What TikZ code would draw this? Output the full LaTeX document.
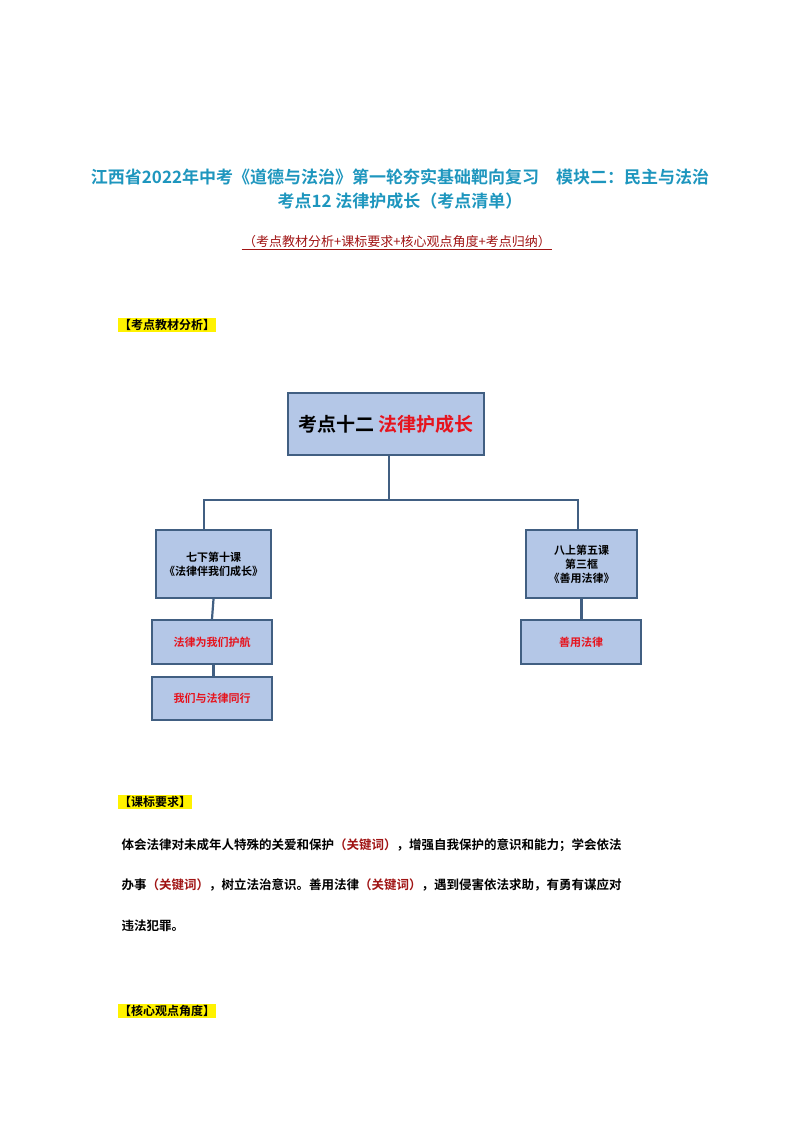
\documentclass[tikz,border=0pt]{standalone}
\usepackage{fontspec}
\newfontfamily\cjk{Noto Sans CJK SC}
\newfontfamily\cjkb{Noto Sans CJK SC Bold}
\definecolor{ttl}{RGB}{30,150,190}
\definecolor{dred}{RGB}{160,20,20}
\definecolor{boxf}{RGB}{180,199,231}
\definecolor{boxd}{RGB}{65,95,130}
\definecolor{rd}{RGB}{230,20,30}
\begin{document}
\begin{tikzpicture}[x=1pt,y=-1pt,
 bx/.style={draw=boxd,line width=2.2pt,fill=boxf,inner sep=0pt,align=center,font=\cjkb\fontsize{11}{14}\selectfont},
 ln/.style={draw=boxd,line width=2.2pt},
 hl/.style={fill=yellow,inner sep=1pt,anchor=west,font=\cjkb\fontsize{12}{14}\selectfont},
 body/.style={anchor=west,font=\cjkb\fontsize{12.5}{14}\selectfont}]
\useasboundingbox (0,0) rectangle (794,1123);
\node[font=\cjkb\fontsize{17}{20}\selectfont,text=ttl] (t1) at (400,177) {江西省2022年中考《道德与法治》第一轮夯实基础靶向复习\quad 模块二：民主与法治};
\node[font=\cjkb\fontsize{17}{20}\selectfont,text=ttl] (t2) at (400,201) {考点12\ 法律护成长（考点清单）};
\node[font=\cjk\fontsize{13}{15}\selectfont,text=dred] (t3) at (397,242) {（考点教材分析+课标要求+核心观点角度+考点归纳）};
\draw[dred,line width=0.7pt] (t3.south west)++(2,-2) -- ([xshift=-2pt,yshift=2pt]t3.south east);
\node[hl] (h1) at (118,325) {【考点教材分析】};
\node[bx,minimum width=196,minimum height=62,font=\cjkb\fontsize{19}{22}\selectfont] (top) at (386,424) {考点十二 \textcolor{rd}{法律护成长}};
\node[bx,minimum width=115,minimum height=68] (L) at (213.5,564) {七下第十课\\《法律伴我们成长》};
\node[bx,minimum width=111,minimum height=68] (R) at (581.5,564) {八上第五课\\第三框\\《善用法律》};
\node[bx,minimum width=120,minimum height=44,text=rd] (L1) at (212,642) {法律为我们护航};
\node[bx,minimum width=120,minimum height=43,text=rd] (L2) at (212,698.5) {我们与法律同行};
\node[bx,minimum width=120,minimum height=44,text=rd] (R1) at (581,642) {善用法律};
\coordinate (j) at (389,500);
\draw[ln] (top.south -| j) -- (j);
\draw[ln] (L.north -| 204,0) -- (204,500) -- (578,500) -- (R.north -| 578,0);
\draw[ln] (L.south) -- (L1.north);
\draw[ln] (L1.south -| L.south) -- (L2.north -| L.south);
\draw[ln] (R.south) -- (R1.north -| R.south);
\node[hl] (h2) at (118,802) {【课标要求】};
\node[body] (b1) at (118,845) {体会法律对未成年人特殊的关爱和保护\textcolor{dred}{（关键词）}，增强自我保护的意识和能力；学会依法};
\node[body] (b2) at (118,885) {办事\textcolor{dred}{（关键词）}，树立法治意识。善用法律\textcolor{dred}{（关键词）}，遇到侵害依法求助，有勇有谋应对};
\node[body] (b3) at (118,926) {违法犯罪。};
\node[hl] (h3) at (118,1011) {【核心观点角度】};
\end{tikzpicture}
\end{document}
